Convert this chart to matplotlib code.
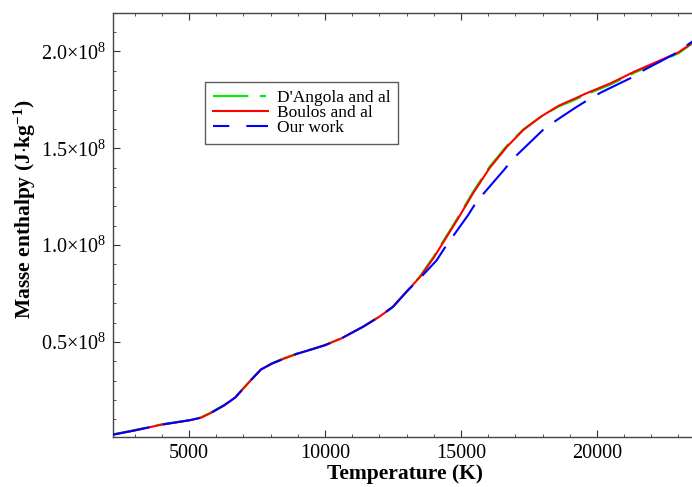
import matplotlib
matplotlib.use('Agg')
import matplotlib.pyplot as plt
from matplotlib.ticker import MultipleLocator, FuncFormatter
from matplotlib.lines import Line2D

plt.rcParams['font.family'] = ['Liberation Serif', 'DejaVu Serif']
plt.rcParams['mathtext.fontset'] = 'custom'
plt.rcParams['mathtext.rm'] = 'Liberation Serif'
plt.rcParams['mathtext.it'] = 'Liberation Serif:italic'
plt.rcParams['mathtext.bf'] = 'Liberation Serif:bold'

# === Data (enthalpy in units of 1e8 J/kg) ===
T_boulos = [2200, 3000, 4000, 5000, 5450, 5800, 6300, 6700, 7050, 7300, 7650, 8050,
            8500, 9000, 9500, 10000, 10600, 11400, 12000, 12500, 13000, 13500, 14000,
            14850, 15450, 16050, 16700, 17300, 17950, 18600, 19200, 19550, 20500,
            21400, 22250, 23000, 23700]
H_boulos = [0.021, 0.043, 0.073, 0.095, 0.109, 0.133, 0.173, 0.213, 0.267, 0.306, 0.358, 0.388,
            0.414, 0.440, 0.461, 0.483, 0.518, 0.578, 0.630, 0.681, 0.759, 0.836, 0.935,
            1.127, 1.268, 1.397, 1.509, 1.595, 1.664, 1.720, 1.757, 1.780, 1.835,
            1.897, 1.949, 1.995, 2.063]

T_dangola = [2200, 3000, 4000, 5000, 5450, 5800, 6300, 6700, 7050, 7300, 7650, 8050,
             8500, 9000, 9500, 10000, 10600, 11400, 12000, 12500, 13000, 13500, 14000,
             14850, 15450, 16050, 16700, 17300, 17950, 18600, 19200, 19550, 20500,
             21400, 22250, 23000, 23700]
H_dangola = [0.023, 0.045, 0.075, 0.096, 0.111, 0.135, 0.175, 0.215, 0.268, 0.307, 0.359, 0.390,
             0.416, 0.442, 0.462, 0.484, 0.519, 0.579, 0.631, 0.682, 0.760, 0.840, 0.941,
             1.134, 1.276, 1.404, 1.515, 1.598, 1.664, 1.716, 1.751, 1.774, 1.829,
             1.891, 1.943, 1.990, 2.060]

T_ours = [2200, 3000, 4000, 5000, 5450, 5800, 6300, 6700, 7050, 7300, 7650, 8050,
          8500, 9000, 9500, 10000, 10600, 11400, 12000, 12500, 13000, 13500, 14100,
          14400, 15270, 15575, 16565, 16940, 18050, 18540, 19160, 19720, 20150,
          21325, 21760, 22870, 23700]
H_ours = [0.021, 0.043, 0.073, 0.095, 0.109, 0.133, 0.173, 0.213, 0.267, 0.306, 0.358, 0.388,
          0.414, 0.440, 0.461, 0.483, 0.518, 0.578, 0.630, 0.681, 0.759, 0.830, 0.920,
          0.985, 1.156, 1.224, 1.385, 1.449, 1.599, 1.647, 1.705, 1.754, 1.788,
          1.868, 1.906, 1.988, 2.070]

labels = ["D'Angola and al", "Boulos and al", "Our work"]

# === Plot ===
fig = plt.figure(figsize=(6.92, 4.87), dpi=100)
ax = fig.add_axes([0.163, 0.103, 0.845, 0.871])

lw = 1.5
ax.plot(T_dangola, H_dangola, color='#00ee00', lw=lw, linestyle=(0, (16, 5)), zorder=1)
ax.plot(T_boulos, H_boulos, color='#ff0000', lw=lw, zorder=2)
ax.plot(T_ours, H_ours, color='#0000ff', lw=lw, linestyle=(0, (18, 6.5)), zorder=3)

ax.set_xlim(2200, 23700)
ax.set_ylim(0.01, 2.2)

ax.xaxis.set_major_locator(MultipleLocator(5000))
ax.xaxis.set_minor_locator(MultipleLocator(1000))
ax.yaxis.set_major_locator(MultipleLocator(0.5))
ax.yaxis.set_minor_locator(MultipleLocator(0.1))
ax.yaxis.set_major_formatter(FuncFormatter(lambda v, p: '%.1f×10$^{8}$' % v))

ax.tick_params(which='both', direction='in', top=True, right=False, colors='#333333',
               labelcolor='black', labelsize=14.5)
ax.tick_params(which='major', length=5, width=0.8)
ax.tick_params(which='minor', length=2.5, width=0.6)
ax.tick_params(axis='x', pad=5)
ax.tick_params(axis='y', pad=5)
for s in ax.spines.values():
    s.set_color('#444444')
    s.set_linewidth(1.0)
ax.spines['right'].set_visible(False)

ax.set_xlabel('Temperature (K)', fontsize=15.5, fontweight='bold', labelpad=1)
ax.set_ylabel(r'Masse enthalpy (J$\cdot$kg$^{\mathbf{-1}}$)', fontsize=15.5, fontweight='bold')
ax.yaxis.set_label_coords(-0.128, 0.537)

handles = [
    Line2D([], [], color='#00ee00', lw=lw, linestyle=(0, (17, 5.5, 3, 20))),
    Line2D([], [], color='#ff0000', lw=lw),
    Line2D([], [], color='#0000ff', lw=lw, linestyle=(0, (7.8, 8.2, 12, 10))),
]
leg = fig.legend(handles, labels, loc='upper left', bbox_to_anchor=(0.296, 0.832),
                 fontsize=12.5, frameon=True, fancybox=False, shadow=False,
                 handlelength=3.2, handletextpad=0.5, labelspacing=-0.05,
                 borderpad=0.45, borderaxespad=0)
leg.get_frame().set_edgecolor('#333333')
leg.get_frame().set_linewidth(1.0)

plt.savefig('out.png', dpi=100)
plt.close()
